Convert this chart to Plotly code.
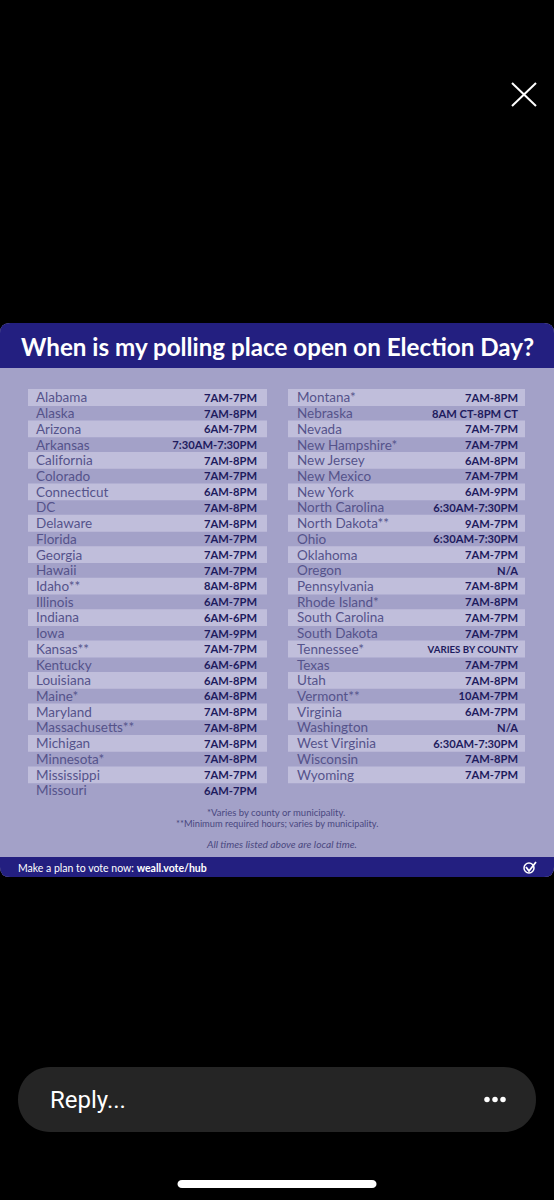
import plotly.graph_objects as go

left_states = ["Alabama","Alaska","Arizona","Arkansas","California","Colorado","Connecticut","DC","Delaware","Florida","Georgia","Hawaii","Idaho**","Illinois","Indiana","Iowa","Kansas**","Kentucky","Louisiana","Maine*","Maryland","Massachusetts**","Michigan","Minnesota*","Mississippi","Missouri"]
left_hours = ["7AM-7PM","7AM-8PM","6AM-7PM","7:30AM-7:30PM","7AM-8PM","7AM-7PM","6AM-8PM","7AM-8PM","7AM-8PM","7AM-7PM","7AM-7PM","7AM-7PM","8AM-8PM","6AM-7PM","6AM-6PM","7AM-9PM","7AM-7PM","6AM-6PM","6AM-8PM","6AM-8PM","7AM-8PM","7AM-8PM","7AM-8PM","7AM-8PM","7AM-7PM","6AM-7PM"]
right_states = ["Montana*","Nebraska","Nevada","New Hampshire*","New Jersey","New Mexico","New York","North Carolina","North Dakota**","Ohio","Oklahoma","Oregon","Pennsylvania","Rhode Island*","South Carolina","South Dakota","Tennessee*","Texas","Utah","Vermont**","Virginia","Washington","West Virginia","Wisconsin","Wyoming"]
right_hours = ["7AM-8PM","8AM CT-8PM CT","7AM-7PM","7AM-7PM","6AM-8PM","7AM-7PM","6AM-9PM","6:30AM-7:30PM","9AM-7PM","6:30AM-7:30PM","7AM-7PM","N/A","7AM-8PM","7AM-8PM","7AM-7PM","7AM-7PM","VARIES BY COUNTY","7AM-7PM","7AM-8PM","10AM-7PM","6AM-7PM","N/A","6:30AM-7:30PM","7AM-8PM","7AM-7PM"]

title = "When is my polling place open on Election Day?"
notes = ["*Varies by county or municipality.", "**Minimum required hours; varies by municipality."]
local_note = "All times listed above are local time."
footer = "Make a plan to vote now: <b>weall.vote/hub</b>"
reply = "Reply..."

NAVY = "#231f80"; BODY = "#a3a1c8"; LIGHT = "#c0bedb"
STATE = "#55538b"; HOUR = "#1e1b5e"; FONT = "Lato"
ROW0, ROWH = 399.0, 15.72

def rows(items):
    return [ROW0 + ROWH * i for i in range(len(items))]

fig = go.Figure()
shapes = [
    dict(type="path", path="M0,333 Q0,323 10,323 L544,323 Q554,323 554,333 L554,867 Q554,877 544,877 L10,877 Q0,877 0,867 Z", fillcolor=BODY, line_width=0, layer="below"),
    dict(type="path", path="M0,333 Q0,323 10,323 L544,323 Q554,323 554,333 L554,368 L0,368 Z", fillcolor=NAVY, line_width=0, layer="below"),
    dict(type="path", path="M0,857 L554,857 L554,867 Q554,877 544,877 L10,877 Q0,877 0,867 Z", fillcolor=NAVY, line_width=0, layer="below"),
    dict(type="path", path="M50,1067 L504,1067 C522,1067 536,1081 536,1099.5 C536,1118 522,1132 504,1132 L50,1132 C32,1132 18,1118 18,1099.5 C18,1081 32,1067 50,1067 Z", fillcolor="#252525", line_width=0, layer="below"),
    dict(type="path", path="M182,1180 L372,1180 C378,1180 378,1188 372,1188 L182,1188 C176,1188 176,1180 182,1180 Z", fillcolor="white", line_width=0, layer="below"),
    dict(type="line", x0=512, y0=83, x1=536, y1=106, line=dict(color="white", width=2)),
    dict(type="line", x0=536, y0=83, x1=512, y1=106, line=dict(color="white", width=2)),
    dict(type="circle", x0=524, y0=863, x1=534, y1=873, line=dict(color="white", width=1.5)),
    dict(type="path", path="M526,867 L529,871 L536,862", line=dict(color="white", width=1.8)),
]
for x0, x1, n in [(28, 267, len(left_states)), (288, 525, len(right_states))]:
    for i in range(0, n, 2):
        if i < 25:
            y = 397.5 + ROWH * i
            shapes.append(dict(type="rect", x0=x0, x1=x1, y0=y-8.4, y1=y+8.4, fillcolor=LIGHT, line_width=0, layer="below"))

def text_trace(x, ys, labels, pos, color, size, weight=None):
    fig.add_trace(go.Scatter(x=[x]*len(labels), y=ys, text=labels, mode="text", textposition=pos, cliponaxis=False,
        textfont=dict(color=color, size=size, family=FONT, weight=weight), hoverinfo="skip", showlegend=False))

text_trace(36, rows(left_states), left_states, "middle right", STATE, 13.5)
text_trace(257, rows(left_hours), left_hours, "middle left", HOUR, 11.2, 700)
text_trace(297, rows(right_states), right_states, "middle right", STATE, 13.5)
text_trace(518, rows(right_hours)[:16], right_hours[:16], "middle left", HOUR, 11.2, 700)
text_trace(518, rows(right_hours)[16:17], right_hours[16:17], "middle left", HOUR, 9.7, 700)
text_trace(518, rows(right_hours)[17:], right_hours[17:], "middle left", HOUR, 11.2, 700)

fig.add_trace(go.Scatter(x=[487, 495, 503], y=[1099.5]*3, mode="markers", marker=dict(color="white", size=5.5), hoverinfo="skip", showlegend=False))

def ann(x, y, t, size, color, anchor="left", font=FONT):
    return dict(x=x, y=y, text=t, xref="x", yref="y", showarrow=False, xanchor=anchor, yanchor="middle",
                font=dict(size=size, color=color, family=font))

annotations = [
    ann(277, 346.5, f"<b>{title}</b>", 24.2, "white", "center"),
    ann(276, 812, notes[0], 9.5, "#4a4880", "center"),
    ann(276.5, 823, notes[1], 9.3, "#4a4880", "center"),
    ann(281, 843.5, f"<i>{local_note}</i>", 10.2, "#4a4880", "center"),
    ann(16, 867.5, footer, 10.5, "white"),
    ann(48, 1100, reply, 24, "white", font="Roboto"),
]

fig.update_layout(width=554, height=1200, margin=dict(l=0, r=0, t=0, b=0), paper_bgcolor="black", plot_bgcolor="black",
    xaxis=dict(range=[0, 554], visible=False, fixedrange=True), yaxis=dict(range=[1200, 0], visible=False, fixedrange=True),
    shapes=shapes, annotations=annotations, showlegend=False)
fig.write_html("out.html", config=dict(displayModeBar=False), post_script="document.body.style.margin='0';document.body.style.background='black';")
